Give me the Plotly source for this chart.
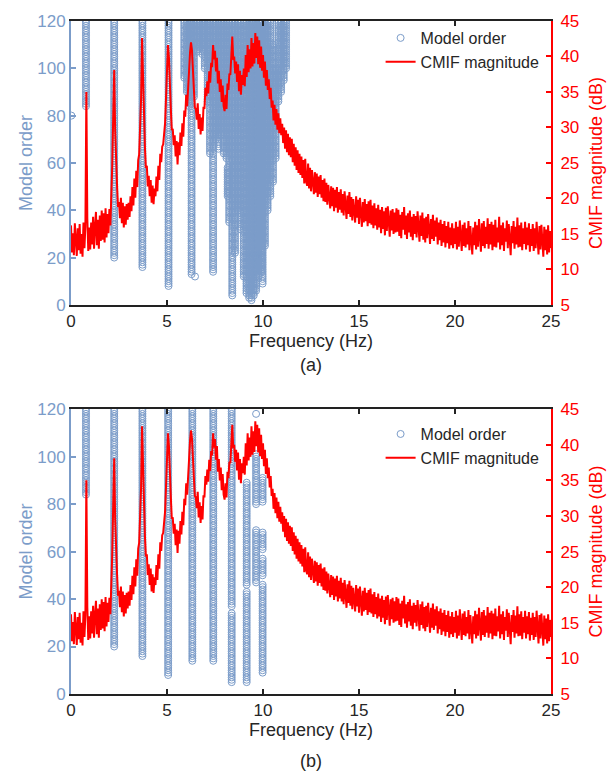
import numpy as np
import plotly.graph_objects as go

# ---------------- data ----------------
freq_step_hz = 0.05
cmif_db = [
    16.2, 12.4, 15.1, 12.0, 16.5, 13.3, 11.9, 15.8, 12.7, 16.4, 12.2, 15.0, 11.8, 16.6, 13.0, 16.1, 35.0, 17.2, 12.6, 15.9,
    12.8, 16.6, 13.5, 17.4, 12.9, 16.0, 18.1, 13.4, 17.0, 12.9, 17.6, 14.0, 18.3, 14.2, 17.9, 13.8, 18.6, 14.5, 17.8, 15.1,
    18.5, 16.2, 20.3, 24.8, 31.8, 38.1, 29.6, 24.2, 21.7, 18.8, 19.5, 17.2, 20.1, 16.5, 19.4, 15.9, 18.9, 16.3, 19.2, 17.0,
    19.4, 17.4, 20.3, 18.2, 21.6, 19.0, 22.8, 20.1, 23.9, 21.6, 25.4, 26.2, 29.5, 34.0, 42.6, 36.2, 29.0, 27.2, 24.3, 24.6,
    21.7, 23.2, 20.3, 22.6, 19.4, 21.8, 19.2, 21.4, 20.3, 23.1, 21.0, 24.6, 22.6, 26.3, 25.1, 27.3, 27.6, 29.4, 30.6, 34.2,
    37.0, 41.6, 39.9, 34.6, 32.6, 29.6, 29.8, 27.5, 28.9, 25.9, 28.1, 24.8, 27.9, 26.1, 29.3, 27.4, 30.6, 28.7, 32.4, 31.5,
    34.6, 33.0, 36.8, 38.0, 40.6, 42.0, 40.9, 37.0, 35.4, 32.8, 32.6, 31.1, 33.4, 29.8, 31.9, 29.0, 31.4, 29.5, 32.9, 32.6,
    35.6, 34.4, 36.5, 34.8, 37.9, 36.3, 39.1, 38.5, 41.6, 39.6, 40.8, 37.9, 39.8, 36.2, 38.0, 35.0, 36.8, 33.6, 35.9, 33.0,
    32.3, 34.6, 32.6, 36.2, 35.3, 37.6, 37.4, 40.1, 42.8, 39.5, 40.0, 37.6, 39.3, 36.4, 38.9, 35.1, 38.0, 34.6, 37.4, 36.0,
    38.3, 35.8, 40.2, 37.1, 41.6, 37.8, 41.0, 38.3, 42.6, 38.6, 41.9, 39.0, 43.3, 39.8, 42.8, 38.9, 42.3, 38.4, 41.4, 38.0,
    40.2, 37.0, 39.3, 35.9, 38.1, 35.3, 36.8, 34.0, 35.6, 32.8, 33.8, 31.0, 33.2, 30.4, 32.6, 29.7, 32.0, 29.2, 31.3, 28.9,
    30.5, 27.8, 30.0, 27.0, 29.6, 26.5, 29.1, 26.1, 28.6, 25.8, 28.4, 25.1, 27.7, 24.6, 27.2, 24.0, 26.8, 23.6, 26.3, 23.3,
    25.9, 22.9, 25.4, 22.1, 25.6, 22.4, 21.8, 24.9, 21.4, 24.3, 21.0, 24.0, 22.0, 20.6, 23.7, 20.8, 23.5, 20.2, 23.1, 20.6,
    23.3, 20.1, 22.6, 19.6, 22.8, 19.5, 22.2, 19.1, 21.9, 19.8, 18.6, 21.7, 18.9, 21.5, 18.2, 21.2, 18.7, 21.6, 18.0, 20.9,
    18.4, 21.3, 18.0, 20.6, 17.6, 21.0, 18.3, 17.1, 20.4, 17.8, 20.9, 17.4, 20.2, 16.9, 19.9, 17.9, 16.6, 20.3, 17.3, 19.8,
    16.4, 20.1, 17.1, 16.0, 19.5, 16.6, 19.9, 16.8, 19.2, 16.1, 19.6, 16.5, 19.8, 16.3, 19.0, 15.8, 19.3, 16.2, 18.6, 15.6,
    19.1, 15.9, 18.4, 15.1, 18.8, 15.7, 18.2, 14.8, 18.7, 15.4, 18.9, 16.0, 14.6, 18.3, 15.5, 18.5, 15.0, 18.0, 15.2, 18.6,
    15.3, 18.4, 14.7, 17.7, 14.4, 18.1, 15.6, 18.8, 14.9, 17.6, 14.3, 17.9, 15.2, 18.3, 14.6, 17.4, 14.1, 17.8, 15.0, 17.5,
    14.5, 18.2, 15.1, 13.9, 17.6, 14.7, 18.0, 14.2, 17.2, 13.8, 17.4, 14.4, 17.8, 14.8, 13.6, 17.1, 14.3, 17.7, 14.0, 16.9,
    14.6, 17.3, 13.5, 16.6, 14.1, 17.0, 13.3, 16.4, 13.8, 16.8, 13.1, 16.1, 13.7, 16.7, 12.9, 15.9, 13.4, 16.5, 13.0, 15.8,
    13.6, 16.7, 12.8, 16.0, 13.2, 16.9, 13.9, 12.6, 16.3, 13.3, 16.6, 13.1, 15.8, 13.5, 16.8, 12.7, 16.1, 13.8, 12.1, 15.9,
    13.4, 16.7, 12.8, 16.2, 13.2, 17.1, 13.7, 12.5, 16.5, 13.3, 16.8, 13.0, 16.0, 13.6, 17.2, 12.9, 16.4, 13.5, 16.7, 12.7,
    16.3, 13.2, 17.0, 13.1, 15.9, 13.8, 17.4, 12.8, 16.2, 13.4, 16.6, 12.6, 15.8, 13.9, 16.9, 13.0, 16.4, 13.3, 12.0, 16.1,
    13.7, 16.8, 12.9, 16.0, 13.5, 17.3, 13.1, 16.2, 13.2, 16.6, 12.7, 15.8, 13.6, 16.7, 12.8, 15.9, 13.4, 16.5, 12.5, 15.7,
    13.3, 16.4, 12.6, 15.8, 13.0, 16.7, 13.5, 12.1, 16.1, 12.8, 16.3, 13.2, 11.8, 16.0, 12.7, 15.6, 12.1, 16.2, 12.4, 15.4, 13.0,
]
freq_hz = np.round(np.arange(len(cmif_db)) * freq_step_hz, 2)

# Stabilization diagram (a): runs of stable poles, frequency + lowest/highest model order
stab_a_freq = [0.02, 0.78, 2.25, 3.72, 5.08, 6.28, 6.46, 7.40,
               5.90, 6.04, 6.16, 6.40, 6.56, 6.70, 6.84, 6.97, 7.12,
               7.24, 7.54, 7.68, 7.82, 7.96, 8.10, 8.16, 8.24, 8.40, 8.54, 8.68, 8.82,
               9.00, 9.14, 9.28, 9.40, 9.52, 9.64, 9.78, 9.90, 9.98,
               10.10, 10.24, 10.38, 10.52, 10.66, 10.80, 10.94, 11.08, 11.20]
stab_a_lo = [80, 84, 20, 16, 8, 13, 12, 14,
             96, 90, 84, 88, 107, 109, 106, 100, 86,
             64, 70, 66, 72, 64, 62, 46, 35, 4, 22, 40, 32,
             12, 5, 3, 2, 4, 6, 12, 14, 9,
             25, 40, 46, 52, 62, 86, 90, 95, 100]
stab_a_hi = [80, 120, 120, 120, 120, 120, 12, 120,
             120, 120, 120, 120, 120, 120, 120, 120, 120,
             120, 120, 120, 120, 120, 120, 58, 120, 120, 120, 120, 120,
             120, 120, 120, 120, 120, 120, 120, 120, 120,
             120, 120, 120, 110, 100, 120, 120, 120, 120]

# Stabilization diagram (b)
stab_b_freq = [0.78, 2.25, 3.72, 5.06, 6.32, 7.41, 8.37, 8.37, 9.15, 9.15,
               9.64, 9.64, 9.64, 9.98, 9.98, 9.98, 9.98]
stab_b_lo = [84, 20, 16, 8, 14, 14, 5, 37, 5, 46,
             47, 80, 118, 9, 50, 61, 81]
stab_b_hi = [120, 120, 120, 120, 120, 120, 34, 120, 43, 89,
             69, 101, 118, 46, 57, 68, 91]


def expand(freqs, los, his):
    xs, ys = [], []
    for f, lo, hi in zip(freqs, los, his):
        for order in range(lo, hi + 1):
            xs.append(f)
            ys.append(order)
    return xs, ys


# ---------------- style ----------------
BLUE = "#7B9CC9"
RED = "#FF0000"
FONT = "Liberation Sans, Arial, sans-serif"
TXT = "#262626"

fig = go.Figure()

panels = [
    dict(x="x", y="y", y2="y2", legend="legend", freqs=stab_a_freq, lo=stab_a_lo, hi=stab_a_hi),
    dict(x="x2", y="y3", y2="y4", legend="legend2", freqs=stab_b_freq, lo=stab_b_lo, hi=stab_b_hi),
]
for p in panels:
    sx, sy = expand(p["freqs"], p["lo"], p["hi"])
    fig.add_trace(go.Scatter(
        x=sx, y=sy, mode="markers", name="Model order",
        marker=dict(symbol="circle-open", size=7, color=BLUE, line=dict(width=1, color=BLUE)),
        xaxis=p["x"], yaxis=p["y"], legend=p["legend"],
    ))
    fig.add_trace(go.Scatter(
        x=freq_hz, y=cmif_db, mode="lines", name="CMIF magnitude",
        line=dict(color=RED, width=2),
        xaxis=p["x"], yaxis=p["y2"], legend=p["legend"],
    ))

H = 774
top_px, bot_px = 16, 694
span = bot_px - top_px


def py(pix):
    return (bot_px - pix) / span


dom_a = [py(302), 1.0]
dom_b = [0.0, py(407)]

xcommon = dict(
    range=[0, 25], tickvals=[0, 5, 10, 15, 20, 25], ticks="inside", ticklen=5, tickwidth=1.5,
    tickcolor="#222", showline=True, linecolor="#222", linewidth=1.5, mirror="ticks",
    showgrid=False, zeroline=False, tickfont=dict(size=17, color=TXT, family=FONT),
    title=dict(text="Frequency (Hz)", font=dict(size=18, color=TXT, family=FONT), standoff=4),
)
ycommon = dict(
    range=[0, 120], tickvals=[0, 20, 40, 60, 80, 100, 120], ticks="inside", ticklen=5,
    tickwidth=1.5, tickcolor=BLUE, showline=True, linecolor=BLUE, linewidth=2,
    showgrid=False, zeroline=False, tickfont=dict(size=17, color=BLUE, family=FONT),
    title=dict(text="Model order", font=dict(size=18, color=BLUE, family=FONT), standoff=0),
)
y2common = dict(
    range=[5, 45], tickvals=[5, 10, 15, 20, 25, 30, 35, 40, 45], ticks="inside", ticklen=5,
    tickwidth=1.5, tickcolor=RED, showline=True, linecolor=RED, linewidth=2, side="right",
    showgrid=False, zeroline=False, tickfont=dict(size=17, color=RED, family=FONT),
    ticklabelstandoff=4,
    title=dict(text="CMIF magnitude (dB)", font=dict(size=18, color=RED, family=FONT), standoff=11),
)

legend_common = dict(
    font=dict(size=16, color=TXT, family=FONT), bgcolor="rgba(0,0,0,0)",
    xanchor="left", yanchor="top", tracegroupgap=0,
)

fig.update_layout(
    width=616, height=H,
    margin=dict(l=71, r=65, t=top_px, b=H - bot_px),
    paper_bgcolor="white", plot_bgcolor="white",
    font=dict(family=FONT),
    xaxis=dict(xcommon, domain=[0, 1], anchor="y"),
    yaxis=dict(ycommon, domain=dom_a, anchor="x"),
    yaxis2=dict(y2common, overlaying="y", anchor="x"),
    xaxis2=dict(xcommon, domain=[0, 1], anchor="y3"),
    yaxis3=dict(ycommon, domain=dom_b, anchor="x2"),
    yaxis4=dict(y2common, overlaying="y3", anchor="x2"),
    legend=dict(legend_common, x=0.645, y=py(16)),
    legend2=dict(legend_common, x=0.645, y=py(415)),
    showlegend=True,
    annotations=[
        dict(text="(a)", x=0.5, y=py(363), xref="paper", yref="paper", showarrow=False,
             yanchor="middle", xanchor="center", font=dict(size=18, color=TXT, family=FONT)),
        dict(text="(b)", x=0.5, y=py(761), xref="paper", yref="paper", showarrow=False,
             yanchor="middle", xanchor="center", font=dict(size=18, color=TXT, family=FONT)),
    ],
)

fig.write_html("out.html")
